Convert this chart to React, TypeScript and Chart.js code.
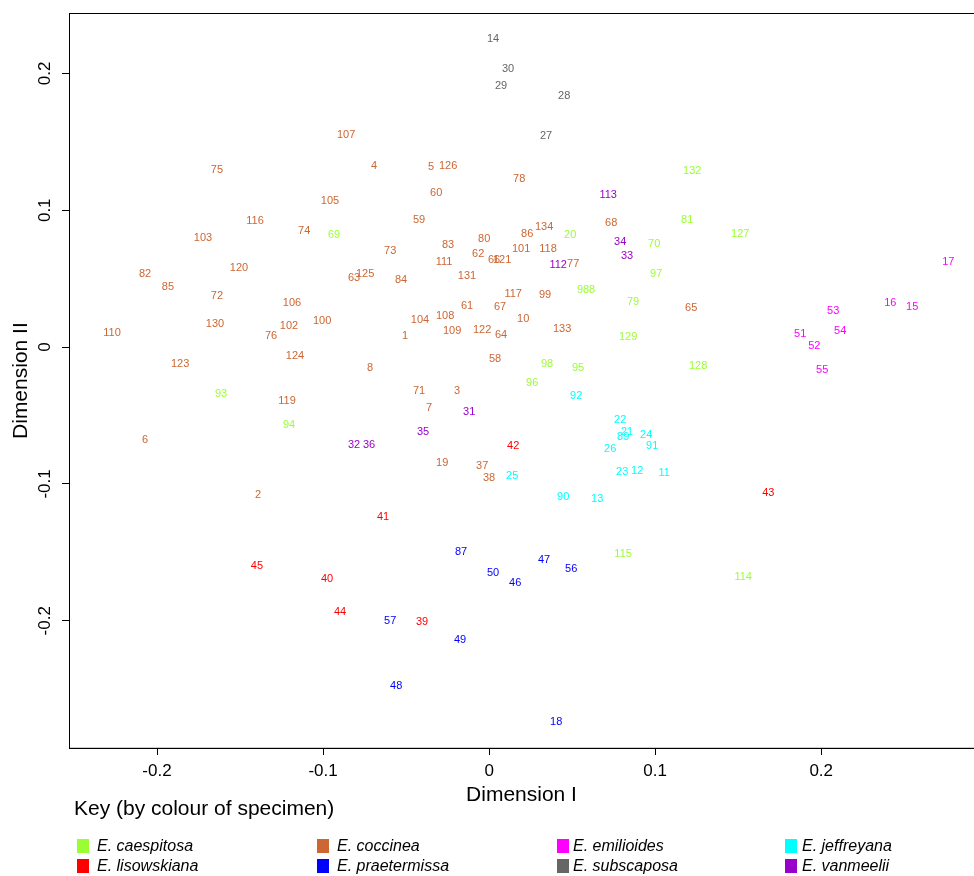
import React, { useEffect, useRef } from "react";
import { Chart, registerables } from "chart.js";

Chart.register(...registerables);

type Pt = [string, number, number];

const caespitosa: Pt[] = [
  ["69", -0.0934, 0.0818], ["132", 0.1223, 0.1285], ["81", 0.1193, 0.0927],
  ["127", 0.1512, 0.0825], ["20", 0.0488, 0.0818], ["70", 0.0994, 0.0752],
  ["97", 0.1006, 0.0533], ["9", 0.0548, 0.0416], ["88", 0.0602, 0.0416],
  ["79", 0.0867, 0.0328], ["129", 0.0837, 0.0073], ["128", 0.1259, -0.0139],
  ["98", 0.0349, -0.0124], ["95", 0.0536, -0.0153], ["96", 0.0259, -0.0263],
  ["93", -0.1614, -0.0343], ["94", -0.1205, -0.0569], ["115", 0.0807, -0.1511],
  ["114", 0.153, -0.1679],
];

const coccinea: Pt[] = [
  ["107", -0.0861, 0.1547], ["75", -0.1639, 0.1292], ["4", -0.0693, 0.1321],
  ["5", -0.0349, 0.1314], ["126", -0.0247, 0.1321], ["78", 0.0181, 0.1226],
  ["60", -0.0319, 0.1124], ["105", -0.0958, 0.1066], ["116", -0.141, 0.092],
  ["74", -0.1114, 0.0847], ["59", -0.0422, 0.0927], ["103", -0.1723, 0.0796],
  ["134", 0.0331, 0.0876], ["68", 0.0735, 0.0905], ["86", 0.0229, 0.0825],
  ["83", -0.0247, 0.0745], ["80", -0.003, 0.0788], ["73", -0.0596, 0.0701],
  ["101", 0.0193, 0.0715], ["118", 0.0355, 0.0715], ["62", -0.0066, 0.0679],
  ["66", 0.003, 0.0635], ["121", 0.0078, 0.0635], ["111", -0.0271, 0.062],
  ["120", -0.1506, 0.0577], ["82", -0.2072, 0.0533], ["77", 0.0506, 0.0606],
  ["63", -0.0813, 0.0504], ["125", -0.0747, 0.0533], ["84", -0.053, 0.0489],
  ["131", -0.0133, 0.0518], ["85", -0.1934, 0.0438], ["72", -0.1639, 0.0372],
  ["117", 0.0145, 0.0387], ["99", 0.0337, 0.038], ["106", -0.1187, 0.0321],
  ["61", -0.0133, 0.0299], ["67", 0.0066, 0.0292], ["65", 0.1217, 0.0285],
  ["130", -0.1651, 0.0168], ["102", -0.1205, 0.0153], ["100", -0.1006, 0.019],
  ["104", -0.0416, 0.0197], ["108", -0.0265, 0.0226], ["10", 0.0205, 0.0204],
  ["110", -0.2271, 0.0102], ["76", -0.1313, 0.008], ["109", -0.0223, 0.0117],
  ["122", -0.0042, 0.0124], ["133", 0.044, 0.0131], ["1", -0.0506, 0.008],
  ["64", 0.0072, 0.0088], ["124", -0.1169, -0.0066], ["58", 0.0036, -0.0088],
  ["123", -0.1861, -0.0124], ["8", -0.0717, -0.0153], ["71", -0.0422, -0.0321],
  ["3", -0.0193, -0.0321], ["119", -0.1217, -0.0394], ["7", -0.0361, -0.0445],
  ["6", -0.2072, -0.0679], ["19", -0.0283, -0.0847], ["37", -0.0042, -0.0869],
  ["38", 0.0, -0.0956], ["2", -0.1392, -0.108],
];

const emilioides: Pt[] = [
  ["17", 0.2765, 0.062], ["16", 0.2416, 0.0321], ["15", 0.2548, 0.0292],
  ["53", 0.2072, 0.0263], ["54", 0.2114, 0.0117], ["51", 0.1873, 0.0095],
  ["52", 0.1958, 0.0007], ["55", 0.2006, -0.0168],
];

const jeffreyana: Pt[] = [
  ["92", 0.0524, -0.0358], ["22", 0.0789, -0.0533], ["21", 0.0831, -0.062],
  ["89", 0.0807, -0.0657], ["24", 0.0946, -0.0642], ["91", 0.0982, -0.0723],
  ["26", 0.0729, -0.0745], ["23", 0.0801, -0.0912], ["12", 0.0892, -0.0905],
  ["11", 0.1054, -0.092], ["25", 0.0139, -0.0942], ["90", 0.0446, -0.1095],
  ["13", 0.0651, -0.1109],
];

const lisowskiana: Pt[] = [
  ["42", 0.0145, -0.0723], ["43", 0.1681, -0.1066], ["41", -0.0639, -0.1241],
  ["45", -0.1398, -0.1599], ["40", -0.0976, -0.1693], ["44", -0.0898, -0.1934],
  ["39", -0.0404, -0.2007],
];

const praetermissa: Pt[] = [
  ["87", -0.0169, -0.1496], ["47", 0.0331, -0.1555], ["56", 0.0494, -0.162],
  ["50", 0.0024, -0.165], ["46", 0.0157, -0.1723], ["57", -0.0596, -0.2],
  ["49", -0.0175, -0.2139], ["48", -0.056, -0.2474], ["18", 0.0404, -0.2737],
];

const subscaposa: Pt[] = [
  ["14", 0.0024, 0.2255], ["30", 0.0114, 0.2029], ["29", 0.0072, 0.1905],
  ["28", 0.0452, 0.1832], ["27", 0.0343, 0.154],
];

const vanmeelii: Pt[] = [
  ["113", 0.0717, 0.111], ["34", 0.0789, 0.0766], ["33", 0.0831, 0.0664],
  ["112", 0.0416, 0.0599], ["31", -0.012, -0.0474], ["35", -0.0398, -0.062],
  ["32", -0.0813, -0.0715], ["36", -0.0723, -0.0715],
];

const speciesNames = [
  "E. caespitosa", "E. coccinea", "E. emilioides", "E. jeffreyana",
  "E. lisowskiana", "E. praetermissa", "E. subscaposa", "E. vanmeelii",
];
const speciesColors = [
  "#99FF33", "#CC6633", "#FF00FF", "#00FFFF",
  "#FF0000", "#0000FF", "#666666", "#9900CC",
];
const speciesData = [
  caespitosa, coccinea, emilioides, jeffreyana,
  lisowskiana, praetermissa, subscaposa, vanmeelii,
];

const xTicks = [-0.2, -0.1, 0, 0.1, 0.2];
const yTicks = [-0.2, -0.1, 0, 0.1, 0.2];

const FONT = "'Liberation Sans', Arial, Helvetica, sans-serif";

const fmt = (v: number) => (Math.abs(v) < 1e-9 ? "0" : v.toFixed(1));

const labelPlugin = {
  id: "pointLabels",
  afterDatasetsDraw(chart: any) {
    const ctx = chart.ctx;
    ctx.save();
    ctx.font = `11px ${FONT}`;
    ctx.textAlign = "center";
    ctx.textBaseline = "middle";
    chart.data.datasets.forEach((ds: any, i: number) => {
      const meta = chart.getDatasetMeta(i);
      ctx.fillStyle = ds.labelColor;
      meta.data.forEach((el: any, j: number) => {
        ctx.fillText(ds.data[j].label, el.x, el.y);
      });
    });
    ctx.restore();
  },
  afterDraw(chart: any) {
    const ctx = chart.ctx;
    const a = chart.chartArea;
    const ys = chart.scales.y;
    ctx.save();
    ctx.strokeStyle = "#000";
    ctx.lineWidth = 1;
    ctx.strokeRect(Math.round(a.left) + 0.5, Math.round(a.top) + 0.5, a.right - a.left, a.bottom - a.top);
    ctx.fillStyle = "#000";
    ctx.font = `17px ${FONT}`;
    ctx.textAlign = "center";
    ctx.textBaseline = "middle";
    yTicks.forEach((v) => {
      const py = ys.getPixelForValue(v);
      ctx.save();
      ctx.translate(a.left - 24, py);
      ctx.rotate(-Math.PI / 2);
      ctx.fillText(fmt(v), 0, 0);
      ctx.restore();
    });
    ctx.restore();
  },
};

export default function App() {
  const ref = useRef<HTMLCanvasElement>(null);

  useEffect(() => {
    if (!ref.current) return;
    const datasets = speciesData.map((arr, i) => ({
      label: speciesNames[i],
      labelColor: speciesColors[i],
      data: arr.map(([label, x, y]) => ({ x, y, label })),
      pointRadius: 0,
      pointHoverRadius: 0,
      backgroundColor: speciesColors[i],
      borderColor: speciesColors[i],
    }));
    const chart = new Chart(ref.current, {
      type: "scatter",
      data: { datasets } as any,
      plugins: [labelPlugin],
      options: {
        animation: false,
        responsive: false,
        events: [],
        layout: { padding: { left: 0, top: 12, right: 0, bottom: 68 } },
        plugins: { legend: { display: false }, tooltip: { enabled: false } },
        scales: {
          x: {
            type: "linear",
            min: -0.253,
            max: 0.292,
            afterFit: (s: any) => { s.height = 60; },
            afterBuildTicks: (s: any) => { s.ticks = xTicks.map((v) => ({ value: v })); },
            ticks: {
              includeBounds: false,
              color: "#000",
              font: { family: FONT, size: 17 },
              padding: 6,
              maxRotation: 0,
              callback: (v: any) => fmt(Number(v)),
            },
            grid: { drawOnChartArea: false, tickLength: 7, color: "#000" },
            border: { display: true, color: "#000" },
            title: {
              display: true,
              text: "Dimension I",
              color: "#000",
              font: { family: FONT, size: 21 },
              padding: 0,
            },
          },
          y: {
            type: "linear",
            min: -0.293,
            max: 0.244,
            afterFit: (s: any) => { s.width = 69; },
            afterBuildTicks: (s: any) => { s.ticks = yTicks.map((v) => ({ value: v })); },
            ticks: {
              includeBounds: false,
              color: "rgba(0,0,0,0)",
              font: { family: FONT, size: 17 },
              callback: (v: any) => fmt(Number(v)),
            },
            grid: { drawOnChartArea: false, tickLength: 7, color: "#000" },
            border: { display: true, color: "#000" },
            title: {
              display: true,
              text: "Dimension II",
              color: "#000",
              font: { family: FONT, size: 21 },
              padding: { top: 9, bottom: 0 },
            },
          },
        },
      } as any,
    });
    return () => chart.destroy();
  }, []);

  const swatchLeft = [77, 317, 557, 785];
  const textLeft = [97, 337, 573, 802];
  const rowTop = [838, 858];

  return (
    <div style={{ position: "absolute", left: 0, top: 0, width: 974, height: 876, fontFamily: FONT }}>
      <canvas ref={ref} width={974} height={876} style={{ position: "absolute", left: 0, top: 0 }} />
      <div style={{ position: "absolute", left: 74, top: 796, fontSize: 21, lineHeight: "24px", color: "#000", whiteSpace: "nowrap" }}>
        Key (by colour of specimen)
      </div>
      {speciesNames.map((name, i) => {
        const col = i % 4;
        const row = Math.floor(i / 4);
        return (
          <React.Fragment key={name}>
            <div style={{ position: "absolute", left: swatchLeft[col], top: rowTop[row] + 1, width: 12, height: 14, background: speciesColors[i] }} />
            <div style={{ position: "absolute", left: textLeft[col], top: rowTop[row] - 1, fontSize: 16, lineHeight: "18px", fontStyle: "italic", color: "#000", whiteSpace: "nowrap" }}>
              {name}
            </div>
          </React.Fragment>
        );
      })}
    </div>
  );
}
